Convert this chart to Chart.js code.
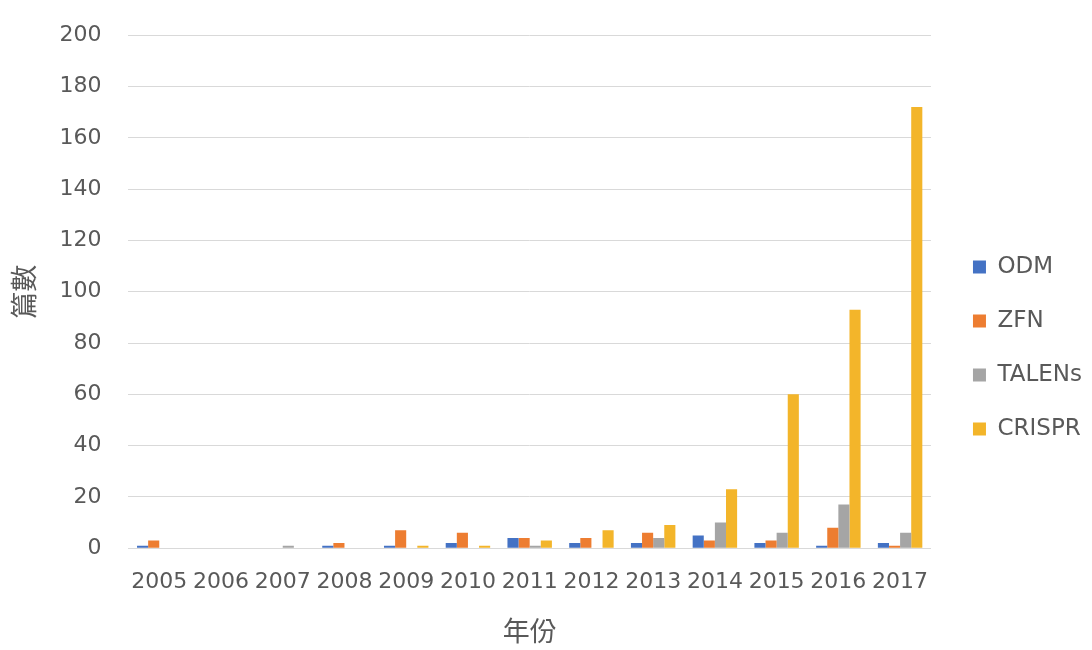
<!DOCTYPE html>
<html>
<head>
<meta charset="utf-8">
<script src="https://cdn.jsdelivr.net/npm/chart.js@4/dist/chart.umd.min.js"></script>
<style>
  html, body { margin: 0; padding: 0; background: #fff; }
  #wrap { width: 1092px; height: 650px; }
</style>
</head>
<body>
<div id="wrap"><canvas id="chart" width="1092" height="650"></canvas></div>
<script>
// data
const years = ['2005','2006','2007','2008','2009','2010','2011','2012','2013','2014','2015','2016','2017'];
const odm    = [1, 0, 0, 1, 1, 2, 4, 2, 2, 5, 2, 1, 2];
const zfn    = [3, 0, 0, 2, 7, 6, 4, 4, 6, 3, 3, 8, 1];
const talens = [0, 0, 1, 0, 0, 0, 1, 0, 4, 10, 6, 17, 6];
const crispr = [0, 0, 0, 0, 1, 1, 3, 7, 9, 23, 60, 93, 172];
const yTicks = [0, 20, 40, 60, 80, 100, 120, 140, 160, 180, 200];

const fontFam = '"DejaVu Sans", "Noto Sans CJK TC", sans-serif';
const grey = '#595959';

const ctx = document.getElementById('chart').getContext('2d');
new Chart(ctx, {
  type: 'bar',
  data: {
    labels: years,
    datasets: [
      { label: 'ODM', data: odm, backgroundColor: '#4472C4' },
      { label: 'ZFN', data: zfn, backgroundColor: '#ED7D31' },
      { label: 'TALENs', data: talens, backgroundColor: '#A5A5A5' },
      { label: 'CRISPR', data: crispr, backgroundColor: '#F3B52A' }
    ]
  },
  options: {
    responsive: false,
    animation: false,
    layout: { padding: { top: 8, right: 0, bottom: 0, left: 10 } },
    datasets: { bar: { categoryPercentage: 0.72, barPercentage: 1.0 } },
    plugins: {
      tooltip: { enabled: false },
      legend: {
        position: 'right',
        align: 'center',
        title: { display: true, text: ' ', font: { size: 10 }, padding: { top: 13, bottom: 13 } },
        labels: {
          boxWidth: 13,
          boxHeight: 13,
          padding: 31,
          color: grey,
          font: { family: fontFam, size: 23 }
        }
      }
    },
    scales: {
      x: {
        grid: { display: false },
        border: { color: '#d9d9d9', width: 1 },
        ticks: { color: grey, font: { family: fontFam, size: 22 }, padding: 13, maxRotation: 0 },
        title: {
          display: true,
          text: '年份',
          color: grey,
          font: { family: fontFam, size: 27 },
          padding: { top: 9, bottom: 0 }
        }
      },
      y: {
        min: 0,
        max: 200,
        afterBuildTicks: axis => { axis.ticks = yTicks.map(v => ({ value: v })); },
        // tick padding also pads the top of the axis; take that back
        afterFit: s => { s.paddingTop -= 5; },
        grid: { color: '#d9d9d9', drawTicks: false },
        border: { display: false },
        ticks: { color: grey, font: { family: fontFam, size: 22 }, padding: 27 },
        title: {
          display: true,
          text: '篇數',
          color: grey,
          font: { family: fontFam, size: 27 },
          padding: { top: 1, bottom: -11 }
        }
      },
      // empty spacer between plot and legend
      gap: {
        type: 'linear',
        position: 'right',
        display: true,
        grid: { display: false },
        border: { display: false },
        ticks: { display: false },
        afterFit: s => { s.width = 11; }
      }
    }
  }
});
</script>
</body>
</html>
